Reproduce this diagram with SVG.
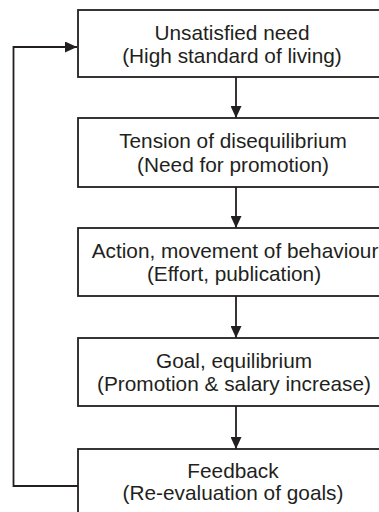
<svg xmlns="http://www.w3.org/2000/svg" width="379" height="512" viewBox="0 0 379 512">
<style>
.box{fill:#fff;stroke:#231f20;stroke-width:1.8}
.t{font-family:"Liberation Sans",Arial,sans-serif;font-size:20.8px;fill:#231f20;text-anchor:middle}
.c{fill:none;stroke:#231f20;stroke-width:1.8}
</style>
<defs>
<marker id="ah" markerUnits="userSpaceOnUse" markerWidth="12" markerHeight="11" refX="12" refY="5.5" orient="auto">
<path d="M0,0 L12,5.5 L0,11 Z" fill="#231f20"/>
</marker>
</defs>
<g id="connectors">
<line class="c" x1="236" y1="77" x2="236" y2="118" marker-end="url(#ah)"/>
<line class="c" x1="236" y1="187" x2="236" y2="228" marker-end="url(#ah)"/>
<line class="c" x1="236" y1="296" x2="236" y2="338" marker-end="url(#ah)"/>
<line class="c" x1="236" y1="406" x2="236" y2="449" marker-end="url(#ah)"/>
<polyline class="c" points="78,486 13.5,486 13.5,47 77,47" marker-end="url(#ah)"/>
</g>
<g id="n1">
<rect class="box" x="78" y="10" width="316" height="67"/>
<text class="t" x="232" y="40">Unsatisfied need</text>
<text class="t" x="232" y="63">(High standard of living)</text>
</g>
<g id="n2">
<rect class="box" x="78" y="118" width="316" height="69"/>
<text class="t" x="233" y="148">Tension of disequilibrium</text>
<text class="t" x="233" y="171.5">(Need for promotion)</text>
</g>
<g id="n3">
<rect class="box" x="78" y="228" width="316" height="68"/>
<text class="t" x="235" y="258">Action, movement of behaviour</text>
<text class="t" x="234" y="281">(Effort, publication)</text>
</g>
<g id="n4">
<rect class="box" x="78" y="338" width="316" height="68"/>
<text class="t" x="234" y="368">Goal, equilibrium</text>
<text class="t" x="234" y="391">(Promotion &amp; salary increase)</text>
</g>
<g id="n5">
<rect class="box" x="78" y="449" width="316" height="70"/>
<text class="t" x="233" y="477.5">Feedback</text>
<text class="t" x="233" y="500">(Re-evaluation of goals)</text>
</g>
</svg>
